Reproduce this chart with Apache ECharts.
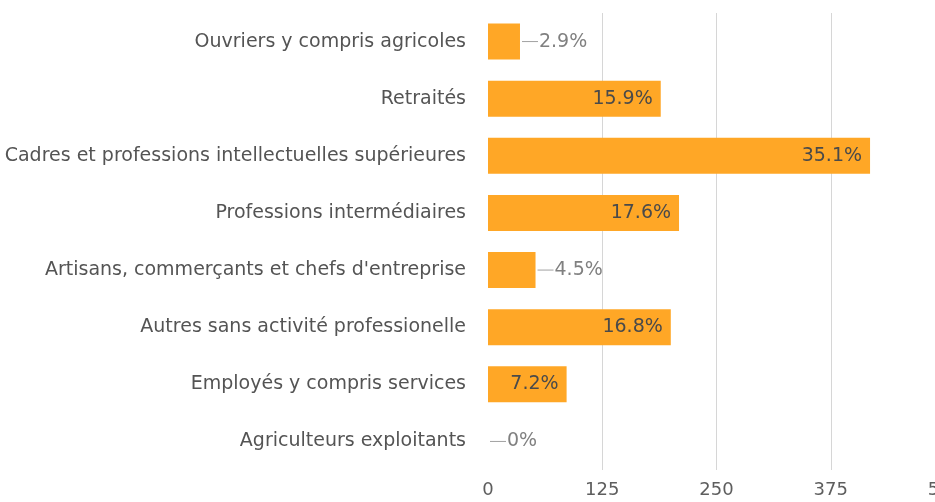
<!DOCTYPE html>
<html>
<head>
<meta charset="utf-8">
<script src="https://cdn.jsdelivr.net/npm/echarts@6/dist/echarts.min.js"></script>
<style>
html,body{margin:0;padding:0;background:#fff;}
#c{width:935px;height:502px;}
</style>
</head>
<body>
<div id="c"></div>
<script>
const categories = [
  "Ouvriers y compris agricoles",
  "Retraités",
  "Cadres et professions intellectuelles supérieures",
  "Professions intermédiaires",
  "Artisans, commerçants et chefs d'entreprise",
  "Autres sans activité professionelle",
  "Employés y compris services",
  "Agriculteurs exploitants"
];
const counts = [35, 189, 418, 209, 52, 200, 86, 0];
const shares = ["2.9%", "15.9%", "35.1%", "17.6%", "4.5%", "16.8%", "7.2%", "0%"];
const xTicks = [0, 125, 250, 375, 500];

const FONT = "DejaVu Sans";
const chart = echarts.init(document.getElementById('c'), null, {renderer: 'canvas'});

const seriesData = counts.map((v, i) => ({
  value: v,
  label: v < 60 ? {
    show: true,
    position: 'right',
    distance: 2,
    formatter: '{l|}{t|' + shares[i] + '}',
    rich: {
      l: {width: 16, height: 1, backgroundColor: '#a0a0a0'},
      t: {color: '#808080', fontSize: 19, fontFamily: FONT, padding: [0, 0, 0, 1]}
    }
  } : {
    show: true,
    position: 'insideRight',
    distance: 8,
    formatter: shares[i],
    color: '#4a4a4a',
    fontSize: 19,
    fontFamily: FONT
  }
}));

chart.setOption({
  animation: false,
  backgroundColor: '#ffffff',
  textStyle: {fontFamily: FONT},
  grid: {left: 488, top: 13, width: 457, height: 457, containLabel: false, outerBoundsMode: 'none'},
  xAxis: {
    type: 'value',
    min: xTicks[0],
    max: xTicks[xTicks.length - 1],
    interval: xTicks[1] - xTicks[0],
    axisLine: {show: false},
    axisTick: {show: false},
    splitLine: {show: true, showMinLine: false, lineStyle: {color: '#d6d6d6', width: 1}},
    axisLabel: {color: '#5e5e5e', fontSize: 18, fontFamily: FONT, margin: 11}
  },
  yAxis: {
    type: 'category',
    inverse: true,
    data: categories,
    axisLine: {show: false},
    axisTick: {show: false},
    splitLine: {show: false},
    axisLabel: {color: '#545454', fontSize: 19, fontFamily: FONT, margin: 22}
  },
  series: [{
    type: 'bar',
    data: seriesData,
    barWidth: 36,
    itemStyle: {color: '#FFA726'}
  }]
});
</script>
</body>
</html>
